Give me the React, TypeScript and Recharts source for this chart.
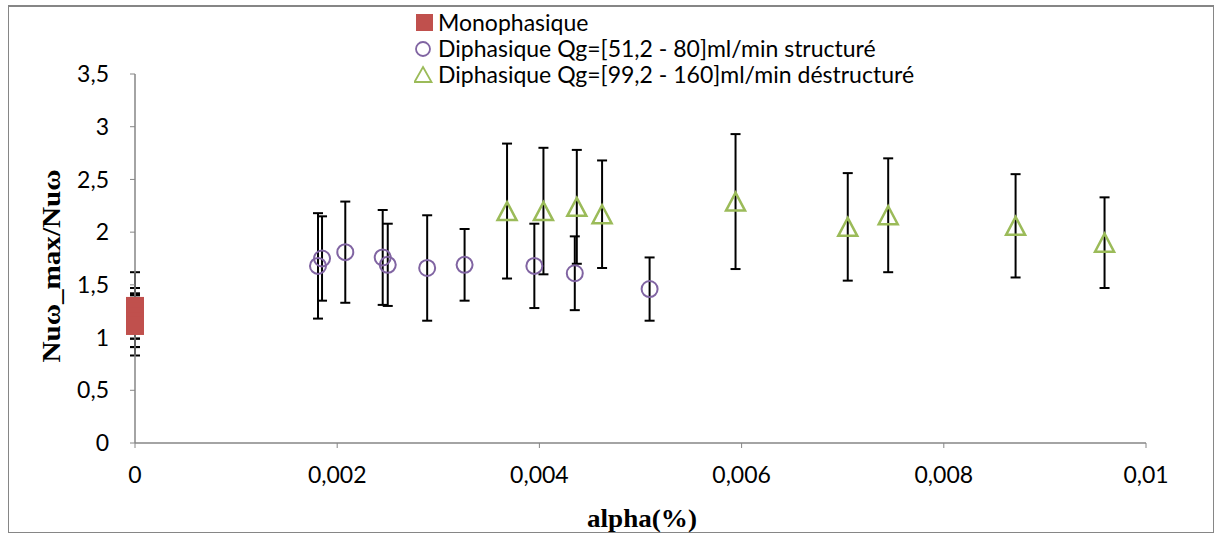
import React from 'react'
import {
  ScatterChart, Scatter, XAxis, YAxis, ErrorBar, Legend, Label,
} from 'recharts'

// axis ticks
const xTicks = [0, 0.002, 0.004, 0.006, 0.008, 0.01]
const yTicks = [0, 0.5, 1, 1.5, 2, 2.5, 3, 3.5]

const seriesNames = [
  'Monophasique',
  'Diphasique Qg=[51,2 - 80]ml/min structuré',
  'Diphasique Qg=[99,2 - 160]ml/min déstructuré',
]

// Monophasique (alpha = 0)
const monoX = [0, 0, 0, 0, 0]
const monoY = [1.30, 1.25, 1.20, 1.15, 1.11]
const monoErrLow = [0.31, 0.34, 0.37, 0.24, 0.12]
const monoErrHigh = [0.32, 0.22, 0.22, 0.25, 0.30]

// Diphasique structuré
const structX = [0.00181, 0.00185, 0.00208, 0.00245, 0.0025, 0.00289, 0.00326, 0.00395, 0.00435, 0.00509]
const structY = [1.68, 1.75, 1.81, 1.76, 1.69, 1.66, 1.69, 1.68, 1.61, 1.46]
const structErr = [0.5, 0.4, 0.48, 0.45, 0.39, 0.5, 0.34, 0.4, 0.35, 0.3]

// Diphasique déstructuré
const destX = [0.00368, 0.00404, 0.00437, 0.00462, 0.00594, 0.00705, 0.00745, 0.00871, 0.00959]
const destY = [2.2, 2.2, 2.24, 2.17, 2.29, 2.05, 2.16, 2.06, 1.9]
const destErr = [0.64, 0.6, 0.54, 0.51, 0.64, 0.51, 0.54, 0.49, 0.43]

const RED = '#C0504D'
const PURPLE = '#8064A2'
const GREEN = '#9BBB59'
const AXIS = '#868686'

const monoData = monoX.map((x, i) => ({ x, y: monoY[i], err: [monoErrLow[i], monoErrHigh[i]] }))
const structData = structX.map((x, i) => ({ x, y: structY[i], err: structErr[i] }))
const destData = destX.map((x, i) => ({ x, y: destY[i], err: destErr[i] }))

const comma = (v: number) => String(v).replace('.', ',')

const tickFont = { fontFamily: 'Lato, Carlito, sans-serif', fontSize: 23, fill: '#000' }
const titleFont = { fontFamily: '"Liberation Serif", "Times New Roman", serif', fontSize: 26, fontWeight: 700 }

const SquareDot = (p: any) => (
  <rect x={p.cx - 9} y={p.cy - 9} width={18} height={18} fill={RED} />
)
const CircleDot = (p: any) => (
  <circle cx={p.cx} cy={p.cy} r={8} fill="none" stroke={PURPLE} strokeWidth={2} />
)
const TriangleDot = (p: any) => (
  <polygon
    points={`${p.cx},${p.cy - 9} ${p.cx + 9.5},${p.cy + 9} ${p.cx - 9.5},${p.cy + 9}`}
    fill="none" stroke={GREEN} strokeWidth={2.5} strokeLinejoin="miter"
  />
)

const legendMarkers = [
  <rect key="m" x={2} y={2} width={17} height={17} fill={RED} />,
  <circle key="c" cx={9} cy={11} r={7} fill="none" stroke={PURPLE} strokeWidth={1.8} />,
  <polygon key="t" points="9,3 17.5,18 0.5,18" fill="none" stroke={GREEN} strokeWidth={1.8} />,
]

function renderLegend() {
  return (
    <div style={{ fontFamily: 'Lato, Carlito, sans-serif', fontSize: 23, color: '#000' }}>
      {seriesNames.map((name, i) => (
        <div key={name} style={{ display: 'flex', alignItems: 'center', height: 26, lineHeight: '26px', whiteSpace: 'nowrap' }}>
          <svg width={20} height={20} style={{ flex: 'none' }}>{legendMarkers[i]}</svg>
          <span style={{ marginLeft: 4 }}>{name}</span>
        </div>
      ))}
    </div>
  )
}

export default function App() {
  return (
    <div style={{ position: 'absolute', left: 0, top: 0, width: 1222, height: 538, background: '#fff' }}>
      <div
        style={{
          position: 'absolute', left: 8, top: 5, width: 1206, height: 528,
          boxSizing: 'border-box', border: `1px solid ${AXIS}`, borderTopWidth: 2,
        }}
      />
      <div style={{ position: 'absolute', left: 0, top: 0 }}>
        <ScatterChart width={1222} height={538} margin={{ top: 74, right: 76, bottom: 0, left: 0 }}>
          <XAxis
            type="number" dataKey="x" domain={[0, 0.01]} ticks={xTicks}
            tickFormatter={comma} height={95}
            stroke={AXIS} tickSize={5} tickMargin={19} tick={tickFont}
            axisLine={{ stroke: AXIS, strokeWidth: 1.5 }} tickLine={{ stroke: AXIS }}
          >
            <Label
              content={() => (
                <text x={642} y={527} textAnchor="middle" textLength={110} lengthAdjust="spacingAndGlyphs" style={titleFont}>
                  alpha(%)
                </text>
              )}
            />
          </XAxis>
          <YAxis
            type="number" dataKey="y" domain={[0, 3.5]} ticks={yTicks}
            tickFormatter={comma} width={135}
            stroke={AXIS} tickSize={5} tickMargin={21} tick={tickFont}
            axisLine={{ stroke: AXIS, strokeWidth: 1.5 }} tickLine={{ stroke: AXIS }}
          >
            <Label
              content={() => (
                <text
                  x={60} y={266} transform="rotate(-90 60 266)" textAnchor="middle"
                  textLength={193} lengthAdjust="spacingAndGlyphs" style={titleFont}
                >
                  Nuω_max/Nuω
                </text>
              )}
            />
          </YAxis>
          <Legend
            layout="horizontal" verticalAlign="middle" align="center"
            wrapperStyle={{ left: 414, top: 9, width: 600, height: 80 }}
            content={renderLegend}
          />
          <Scatter name={seriesNames[0]} data={monoData} fill={RED} shape={SquareDot} isAnimationActive={false}>
            <ErrorBar dataKey="err" direction="y" width={5} stroke="#000" strokeWidth={2} isAnimationActive={false} />
          </Scatter>
          <Scatter name={seriesNames[1]} data={structData} fill={PURPLE} shape={CircleDot} isAnimationActive={false}>
            <ErrorBar dataKey="err" direction="y" width={5} stroke="#000" strokeWidth={2} isAnimationActive={false} />
          </Scatter>
          <Scatter name={seriesNames[2]} data={destData} fill={GREEN} shape={TriangleDot} isAnimationActive={false}>
            <ErrorBar dataKey="err" direction="y" width={5} stroke="#000" strokeWidth={2} isAnimationActive={false} />
          </Scatter>
        </ScatterChart>
      </div>
    </div>
  )
}
